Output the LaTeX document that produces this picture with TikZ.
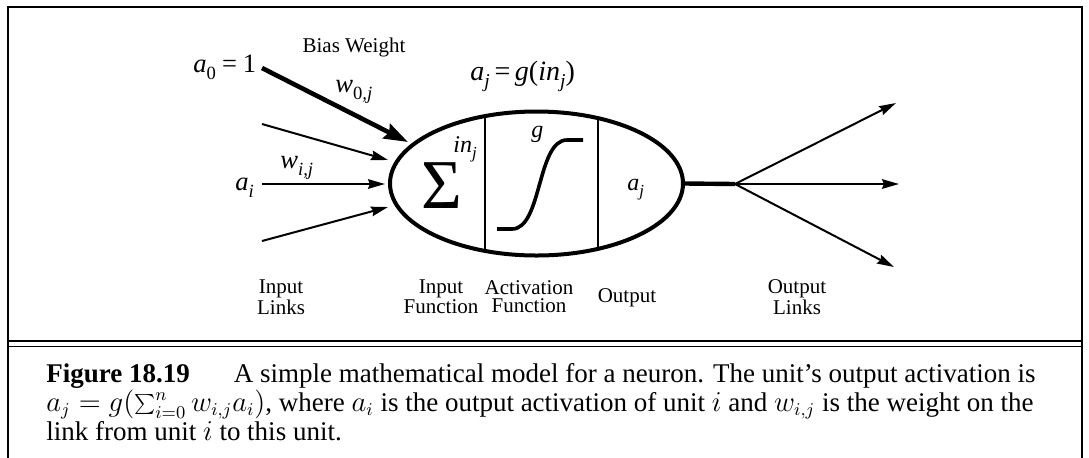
\documentclass[tikz,border=0pt]{standalone}
\usepackage{fontspec}
\setmainfont{Liberation Serif}
\usetikzlibrary{arrows.meta,shapes.geometric}
\newcommand\sbs[1]{\raisebox{-0.28em}{\scalebox{0.7}{#1}}}
\tikzset{
  frameline/.style={line width=1.3pt},
  thinarrow/.style={line width=1pt,-{Stealth[length=8.5pt,width=4.8pt,inset=1pt]}},
  biasarrow/.style={line width=2.3pt,-{Stealth[length=12pt,width=8pt,inset=1.5pt]}},
  lbl/.style={inner sep=0pt,font=\fontsize{10.5}{9}\selectfont,align=center},
  mlbl/.style={inner sep=0pt,anchor=base west,font=\fontsize{13.3}{14}\selectfont},
  ilbl/.style={inner sep=0pt,anchor=base west,font=\fontsize{12}{14}\selectfont},
  captext/.style={inner sep=0pt,anchor=north west,align=left,font=\fontsize{13.5}{14.6}\selectfont}
}
\begin{document}
\begin{tikzpicture}[x=0.5pt,y=-0.5pt]
\useasboundingbox (0,0) rectangle (1089,457);
% frame
\draw[frameline] (8,470) -- (8,7) -- (1082,7) -- (1082,470);
\draw[line width=1.2pt] (8,341) -- (1082,341);
\draw[line width=0.6pt] (8,346.5) -- (1082,346.5);
% neuron
\node[ellipse,draw,line width=2pt,minimum width=146.5pt,minimum height=72pt,inner sep=0pt] (neuron) at (536.5,183.5) {};
\begin{scope}
\clip (536.5,183.5) ellipse [x radius=146.5, y radius=72];
\draw[line width=0.8pt] (485,100) -- (485,270);
\draw[line width=0.8pt] (598,100) -- (598,270);
\end{scope}
\node[inner sep=0pt,text height=23pt,text depth=0pt,font=\fontsize{35}{36}\selectfont] (sigma) at (442,185) {Σ};
\node[ilbl] (inj) at (453,152) {\itshape in\sbs{j}};
\node[ilbl] (g) at (531,137) {\itshape g};
\node[ilbl] (aj) at (627,190) {\itshape a\sbs{j}};
\draw[line width=1.8pt] (497,229) -- (512,229) .. controls (542,229) and (537,140) .. (567,140) -- (583,140);
% inputs
\coordinate (in1s) at (262,124); \coordinate (in1t) at (388,160);
\coordinate (in2s) at (262,184); \coordinate (in2t) at (385,184);
\coordinate (in3s) at (262,241); \coordinate (in3t) at (388,207);
\coordinate (bs) at (262,68); \coordinate (bt) at (408,142);
\draw[thinarrow] (in1s) -- (in1t);
\draw[thinarrow] (in2s) -- (in2t);
\draw[thinarrow] (in3s) -- (in3t);
\draw[biasarrow] (bs) -- (bt);
% output
\coordinate (junc) at (735,184);
\coordinate (o1) at (896,103);
\coordinate (o2) at (899,184);
\coordinate (o3) at (894,267);
\draw[line width=2.2pt] (neuron.east) -- (junc);
\draw[thinarrow] (junc) -- (o1);
\draw[thinarrow] (junc) -- (o2);
\draw[thinarrow] (junc) -- (o3);
% labels
\node[lbl] (bias) at (354,47) {Bias Weight};
\node[mlbl] (a0) at (193,72) {\itshape a\sbs{\upshape 0}\,=\,\upshape 1};
\node[mlbl] (w0j) at (335,92) {\itshape w\sbs{\upshape 0\itshape ,j}};
\node[mlbl] (wij) at (280,168) {\itshape w\sbs{i,j}};
\node[mlbl] (ai) at (235,190) {\itshape a\sbs{i}};
\node[mlbl,font=\fontsize{14}{14}\selectfont] (ajg) at (470,80) {\itshape a\sbs{j}\,\upshape=\,\itshape g\upshape(\itshape in\sbs{j}\upshape)};
\node[lbl] (il) at (281,297) {Input\\Links};
\node[lbl] (ifn) at (441,297) {Input\\Function};
\node[lbl] (afn) at (529,297) {Activation\\Function};
\node[lbl] (outl) at (627,298) {Output};
\node[lbl] (ol) at (797,297) {Output\\Links};
% caption
\node[captext] (caption) at (46,363) {\textbf{Figure 18.19}\hspace{22pt}A simple mathematical model for a neuron. The unit's output activation is\\
$a_j = g(\sum_{i=0}^n w_{i,j}a_i)$, where $a_i$ is the output activation of unit $i$ and $w_{i,j}$ is the weight on the\\
link from unit $i$ to this unit.};
\end{tikzpicture}
\end{document}
